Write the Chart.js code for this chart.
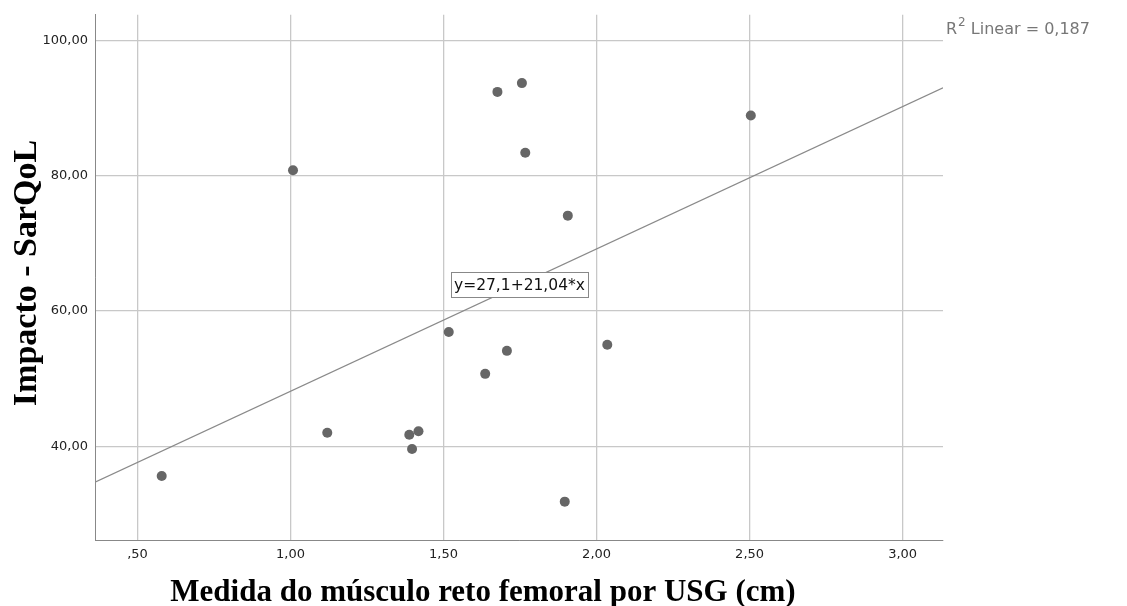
<!DOCTYPE html>
<html>
<head>
<meta charset="utf-8">
<script src="https://cdn.jsdelivr.net/npm/chart.js@4/dist/chart.umd.min.js"></script>
<style>
  html, body { margin: 0; padding: 0; background: #fff; }
  canvas { display: block; }
</style>
</head>
<body>
<canvas id="graficoSarqol" width="1127" height="606"></canvas>
<script>
// Medida do reto femoral (cm) x Impacto - SarQoL
let medidaUSG = [0.579, 1.008, 1.120, 1.388, 1.397, 1.418, 1.517, 1.636, 1.676, 1.707, 1.756, 1.767, 1.896, 1.906, 2.035, 2.504];
let impacto   = [35.6, 80.8, 42.0, 41.7, 39.6, 42.2, 56.9, 50.7, 92.4, 54.1, 93.7, 83.4, 31.8, 74.1, 55.0, 88.9];

let xTicks = [0.5, 1.0, 1.5, 2.0, 2.5, 3.0];
let yTicks = [40, 60, 80, 100];
let xLimites = [0.361, 3.132];
let yLimites = [26.13, 103.8];

// reta ajustada (SPSS): y = 27,1 + 21,04*x ; R2 = 0,187
let intercepto = 27.1;
let inclinacao = 21.04;
let r2 = "0,187";

let pontos = medidaUSG.map((x, i) => ({ x: x, y: impacto[i] }));
let reta = xLimites.map(x => ({ x: x, y: intercepto + inclinacao * x }));

function formata(v) {
  let s = v.toFixed(2).replace('.', ',');
  if (s.startsWith('0')) s = s.slice(1);
  return s;
}

let fonteTicks = { family: "'DejaVu Sans', sans-serif", size: 13 };

// titulos dos eixos, rótulo da equação e do R2
let textos = {
  id: 'textos',
  afterDraw(chart) {
    let ctx = chart.ctx;
    let sx = chart.scales.x, sy = chart.scales.y;
    ctx.save();

    // equação
    ctx.font = "15.5px 'DejaVu Sans', sans-serif";
    let eq = "y=27,1+21,04*x";
    let w = ctx.measureText(eq).width;
    let cx = sx.getPixelForValue(1.748), cy = sy.getPixelForValue(63.9);
    let bx = Math.round(cx - w / 2 - 3) + 0.5, by = Math.round(cy - 12.5) + 0.5, bw = Math.round(w + 6);
    ctx.fillStyle = '#fff';
    ctx.strokeStyle = '#888';
    ctx.lineWidth = 1;
    ctx.fillRect(bx, by, bw, 25);
    ctx.strokeRect(bx, by, bw, 25);
    ctx.fillStyle = '#111';
    ctx.textAlign = 'center';
    ctx.textBaseline = 'middle';
    ctx.fillText(eq, cx, cy + 1);

    // R2 Linear
    ctx.fillStyle = '#777';
    ctx.textAlign = 'left';
    ctx.textBaseline = 'alphabetic';
    ctx.font = "16px 'DejaVu Sans', sans-serif";
    let x0 = 946, base = 34;
    ctx.fillText("R", x0, base);
    let wr = ctx.measureText("R").width;
    ctx.font = "12px 'DejaVu Sans', sans-serif";
    ctx.fillText("2", x0 + wr + 1, base - 8);
    let w2 = ctx.measureText("2").width;
    ctx.font = "16px 'DejaVu Sans', sans-serif";
    ctx.fillText(" Linear = " + r2, x0 + wr + 1 + w2, base);

    // títulos
    ctx.fillStyle = '#000';
    ctx.textAlign = 'center';
    ctx.font = "bold 31px 'Liberation Serif', 'Times New Roman', serif";
    ctx.fillText("Medida do músculo reto femoral por USG (cm)", 483, 601);
    ctx.font = "bold 34px 'Liberation Serif', 'Times New Roman', serif";
    ctx.translate(36, 273);
    ctx.rotate(-Math.PI / 2);
    ctx.fillText("Impacto - SarQoL", 0, 0);
    ctx.restore();
  }
};

let ctx = document.getElementById("graficoSarqol").getContext("2d");

let grafico = new Chart(ctx, {
  type: 'scatter',
  data: {
    datasets: [
      {
        label: 'Impacto',
        data: pontos,
        backgroundColor: '#666',
        borderColor: '#666',
        pointRadius: 5,
        pointBorderWidth: 0,
      },
      {
        type: 'line',
        label: 'Linear',
        data: reta,
        borderColor: '#8a8a8a',
        borderWidth: 1.2,
        pointRadius: 0,
        fill: false,
      },
    ],
  },
  options: {
    responsive: false,
    animation: false,
    devicePixelRatio: 1,
    layout: { padding: { top: 12, right: 184, left: 0, bottom: 0 } },
    plugins: {
      legend: { display: false },
      tooltip: { enabled: false },
    },
    scales: {
      x: {
        type: 'linear',
        min: xLimites[0],
        max: xLimites[1],
        afterBuildTicks: s => { s.ticks = xTicks.map(v => ({ value: v })); },
        afterFit: s => { s.height = 66; },
        ticks: { font: fonteTicks, color: '#222', padding: 7, callback: v => formata(v), maxRotation: 0, autoSkip: false },
        grid: { color: '#c8c8c8', drawTicks: false, lineWidth: 1.3 },
        border: { color: '#888', width: 1 },
      },
      y: {
        type: 'linear',
        min: yLimites[0],
        max: yLimites[1],
        afterBuildTicks: s => { s.ticks = yTicks.map(v => ({ value: v })); },
        afterFit: s => { s.width = 95; },
        ticks: { font: fonteTicks, color: '#222', padding: 7, callback: v => formata(v), autoSkip: false },
        grid: { color: '#c8c8c8', drawTicks: false, lineWidth: 1.3 },
        border: { color: '#888', width: 1 },
      },
    },
  },
  plugins: [textos],
});
</script>
</body>
</html>
